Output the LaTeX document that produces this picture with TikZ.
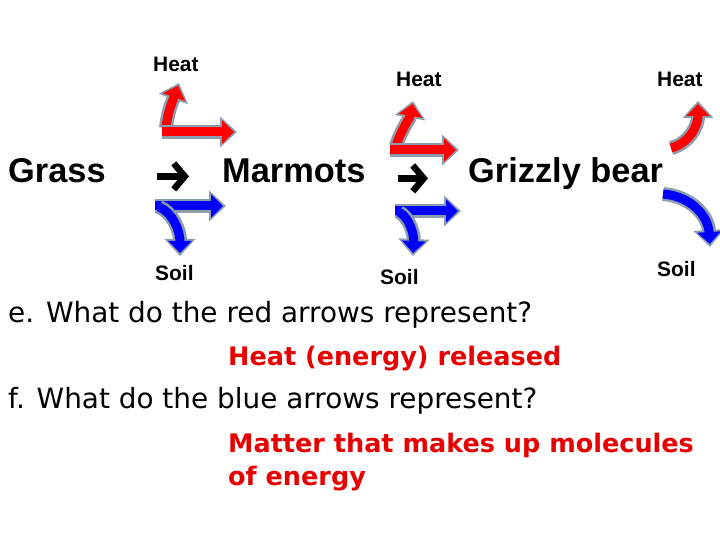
\documentclass[tikz,border=0pt]{standalone}
\usepackage{fontspec}
\setmainfont{Liberation Sans}
\newfontfamily\qfont{DejaVu Sans}
\usetikzlibrary{arrows.meta}
\definecolor{heatred}{HTML}{FF0000}
\definecolor{soilblue}{HTML}{0000FF}
\definecolor{rim}{HTML}{8C9DAD}
\definecolor{answer}{HTML}{E60000}
\tikzset{
  tag/.style={font=\fontsize{21}{24}\selectfont\bfseries,inner sep=0pt,anchor=base west},
  organism/.style={font=\fontsize{34.5}{40}\selectfont\bfseries,inner sep=0pt,anchor=base west},
  question/.style={font=\qfont\fontsize{28}{32}\selectfont,inner sep=0pt,anchor=base west},
  reply/.style={question,font=\qfont\bfseries\fontsize{25.6}{30}\selectfont,text=answer},
  fat/.style={preaction={draw=rim,line width=14bp,shorten >=0pt,
      -{Triangle[length=17bp,width=30bp]}},
    line width=9bp,shorten >=3bp,-{Triangle[length=12bp,width=23bp]}},
  heatarrow/.style={fat,draw=heatred},
  soilarrow/.style={fat,draw=soilblue},
  chain/.style={line width=6.5bp,-{Straight Barb[length=11bp,width=26bp,line cap=butt,line join=miter]}}}

\begin{document}
\begin{tikzpicture}[x=1bp,y=-1bp]
\useasboundingbox (0,0) rectangle (720,540);
% food chain
\node[organism] (grass) at (8,183) {Grass};
\node[organism] (marmots) at (222,183) {Marmots};
\node[organism] (bear) at (468,183) {Grizzly bear};
\draw[chain,shorten <=51bp,shorten >=33bp] ([yshift=4bp]grass.mid east) -- ([yshift=4bp]marmots.mid west);
\draw[chain,shorten <=32bp,shorten >=40bp] ([yshift=2bp]marmots.mid east) -- ([yshift=2bp]bear.mid west);
% heat / soil labels
\node[tag] (heatA) at (153,72) {Heat};
\node[tag] (heatB) at (396,87) {Heat};
\node[tag] (heatC) at (657,87) {Heat};
\node[tag] (soilA) at (155,281) {Soil};
\node[tag] (soilB) at (380,285) {Soil};
\node[tag] (soilC) at (657,277) {Soil};
% grass -> marmots
\coordinate (rA) at (162,132); \coordinate (rAh) at (237,132); \coordinate (rAv) at (179,83);
\draw[heatarrow] (166,128) .. controls (168,110) and (173,100) .. (rAv);
\draw[heatarrow] (rA) -- (rAh);
\coordinate (bA) at (155,206); \coordinate (bAh) at (226,206); \coordinate (bAv) at (180,256);
\draw[soilarrow] (bA) -- (bAh);
\draw[soilarrow] (159,207) .. controls (172,212) and (180,230) .. (bAv);
% marmots -> bear
\coordinate (rB) at (390,150); \coordinate (rBh) at (459,150); \coordinate (rBv) at (413,101);
\draw[heatarrow] (396,146) .. controls (401,130) and (410,118) .. (rBv);
\draw[heatarrow] (rB) -- (rBh);
\coordinate (bB) at (395,211); \coordinate (bBh) at (461,211); \coordinate (bBv) at (413,256);
\draw[soilarrow] (bB) -- (bBh);
\draw[soilarrow] (399,212) .. controls (410,218) and (414,235) .. (bBv);
% bear
\coordinate (rC) at (671,148); \coordinate (rCv) at (698,101);
\draw[heatarrow] (rC) .. controls (690,143) and (698,125) .. (rCv);
\coordinate (bC) at (663,194); \coordinate (bCv) at (710,247);
\draw[soilarrow] (bC) .. controls (690,196) and (708,215) .. (bCv);
% questions
\node[question] (qE) at (8,322) {e. What do the red arrows represent?};
\node[reply] (aE) at (228,365) {Heat (energy) released};
\node[question] (qF) at (8,408) {f. What do the blue arrows represent?};
\node[reply] (aF) at (228,452) {Matter that makes up molecules};
\node[reply] (aF2) at (228,485) {of energy};
\end{tikzpicture}
\end{document}
